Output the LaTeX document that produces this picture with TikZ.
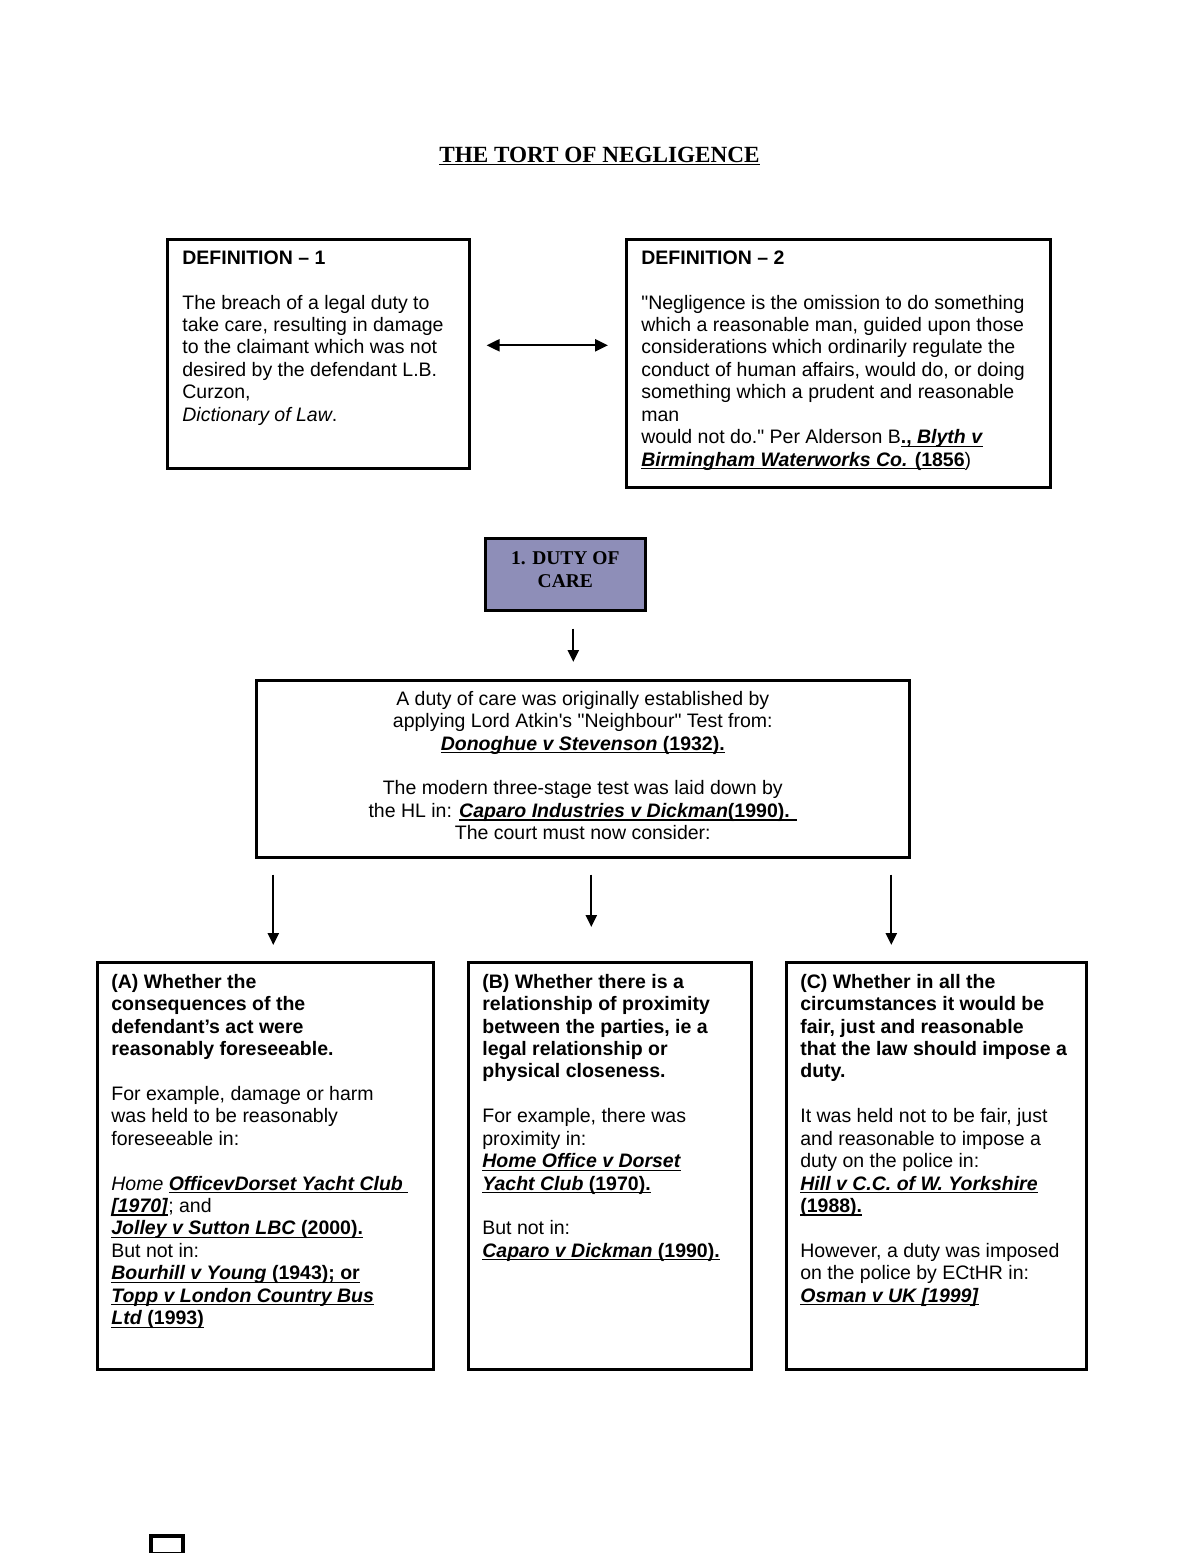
\documentclass[tikz,border=0pt]{standalone}
\usepackage{fontspec}
\setmainfont{Liberation Sans}[Ligatures=TeXOff]
\newfontfamily\titlefont{Liberation Serif}
\usetikzlibrary{positioning, arrows.meta}

\definecolor{dutyblue}{RGB}{142,142,184}

\newsavebox{\ulinebox}
\newcommand{\ulcase}[1]{\sbox{\ulinebox}{#1}\rlap{\rule[-1.8pt]{\wd\ulinebox}{0.7pt}}\usebox{\ulinebox}}
\newcommand{\case}[1]{\textbf{\textit{#1}}}

\tikzset{
  panel/.style={draw, line width=1.5pt, anchor=north west, inner sep=0pt},
  panetext/.style={inner sep=0pt, align=left, font=\fontsize{11.1}{12.76}\selectfont},
  flow/.style={line width=1.3pt, -{Triangle[length=0.24cm,width=0.22cm]}},
}

\begin{document}
\begin{tikzpicture}[x=0.02cm, y=-0.02cm]
\useasboundingbox (0,0) rectangle (1200,1553);

\node[anchor=base, inner sep=0pt, font=\titlefont\bfseries\fontsize{13.2}{15}\selectfont]
    (title) at (599.5,162) {\ulcase{THE TORT OF NEGLIGENCE}};

\node[panel, minimum width=6.04cm, minimum height=4.58cm] (def1) at (166,238) {};
\node[panel, minimum width=8.48cm, minimum height=4.96cm] (def2) at (625,238) {};
\node[panetext, below right=0.205cm and 0.32cm of def1.north west] (def1txt)
    {\strut\textbf{DEFINITION – 1}\\[\baselineskip]
     The breach of a legal duty to\\
     take care, resulting in damage\\
     to the claimant which was not\\
     desired by the defendant L.B.\\
     Curzon,\\
     \textit{Dictionary of Law}.};
\node[panetext, below right=0.205cm and 0.32cm of def2.north west] (def2txt)
    {\strut\textbf{DEFINITION – 2}\\[\baselineskip]
     "Negligence is the omission to do something\\
     which a reasonable man, guided upon those\\
     considerations which ordinarily regulate the\\
     conduct of human affairs, would do, or doing\\
     something which a prudent and reasonable\\
     man\\
     would not do." Per Alderson B\ulcase{\textbf{., \textit{Blyth v}}}\\
     \ulcase{\textbf{\textit{Birmingham Waterworks Co.} (1856}})};

\node[panel, fill=dutyblue, minimum width=3.2cm, minimum height=1.44cm] (duty) at (484,537) {};
\node[align=center, inner sep=0pt, font=\titlefont\bfseries\fontsize{11.1}{13}\selectfont]
    (dutytxt) at ([yshift=0.09cm]duty.center) {1. DUTY OF\\CARE};

\node[panel, minimum width=13.06cm, minimum height=3.54cm] (main) at (255,679) {};
\node[panetext, align=center, below=0.205cm of main.north] (maintxt)
    {\strut A duty of care was originally established by\\
     applying Lord Atkin's "Neighbour" Test from:\\
     \ulcase{\textbf{\textit{Donoghue v Stevenson} (1932).}}\\[\baselineskip]
     The modern three-stage test was laid down by\\
     the HL in: \ulcase{\textbf{\textit{Caparo Industries v Dickman}(1990). }}\\
     The court must now consider:};

\node[panel, minimum width=6.72cm, minimum height=8.14cm] (testa) at (96,961) {};
\node[panel, minimum width=5.66cm, minimum height=8.14cm] (testb) at (467,961) {};
\node[panel, minimum width=6.0cm, minimum height=8.14cm] (testc) at (785,961) {};

\node[panetext, below right=0.225cm and 0.3cm of testa.north west] (testatxt)
    {\strut\textbf{(A) Whether the}\\
     \textbf{consequences of the}\\
     \textbf{defendant’s act were}\\
     \textbf{reasonably foreseeable.}\\[\baselineskip]
     For example, damage or harm\\
     was held to be reasonably\\
     foreseeable in:\\[\baselineskip]
     \textit{Home} \ulcase{\case{OfficevDorset Yacht Club }}\\
     \ulcase{\case{[1970]}}; and\\
     \ulcase{\textbf{\textit{Jolley v Sutton LBC} (2000).}}\\
     But not in:\\
     \ulcase{\textbf{\textit{Bourhill v Young} (1943); or}}\\
     \ulcase{\case{Topp v London Country Bus}}\\
     \ulcase{\textbf{\textit{Ltd} (1993)}}};
\node[panetext, below right=0.225cm and 0.3cm of testb.north west] (testbtxt)
    {\strut\textbf{(B) Whether there is a}\\
     \textbf{relationship of proximity}\\
     \textbf{between the parties, ie a}\\
     \textbf{legal relationship or}\\
     \textbf{physical closeness.}\\[\baselineskip]
     For example, there was\\
     proximity in:\\
     \ulcase{\case{Home Office v Dorset}}\\
     \ulcase{\textbf{\textit{Yacht Club} (1970).}}\\[\baselineskip]
     But not in:\\
     \ulcase{\textbf{\textit{Caparo v Dickman} (1990).}}};
\node[panetext, below right=0.225cm and 0.3cm of testc.north west] (testctxt)
    {\strut\textbf{(C) Whether in all the}\\
     \textbf{circumstances it would be}\\
     \textbf{fair, just and reasonable}\\
     \textbf{that the law should impose a}\\
     \textbf{duty.}\\[\baselineskip]
     It was held not to be fair, just\\
     and reasonable to impose a\\
     duty on the police in:\\
     \ulcase{\case{Hill v C.C. of W. Yorkshire}}\\
     \ulcase{\textbf{(1988).}}\\[\baselineskip]
     However, a duty was imposed\\
     on the police by ECtHR in:\\
     \ulcase{\case{Osman v UK [1999]}}};

\node[panel, line width=2pt, minimum width=0.64cm, minimum height=0.36cm] (pagemark) at (149,1534) {};

\draw[line width=1.3pt, {Triangle[length=0.26cm,width=0.24cm]}-{Triangle[length=0.26cm,width=0.24cm]},
      shorten <=0.32cm, shorten >=0.34cm]
    ([yshift=0.17cm]def1.east) -- ([yshift=0.17cm]def1.east -| def2.west);
\draw[flow, shorten <=0.34cm, shorten >=0.34cm]
    ([xshift=0.16cm]duty.south) -- ([xshift=0.16cm]duty.south |- main.north);
\draw[flow, shorten <=0.32cm, shorten >=0.32cm]
    ([xshift=0.16cm]testa.north |- main.south) -- ([xshift=0.16cm]testa.north);
\draw[flow, shorten <=0.32cm, shorten >=0.68cm]
    ([xshift=-0.37cm]testb.north |- main.south) -- ([xshift=-0.37cm]testb.north);
\draw[flow, shorten <=0.32cm, shorten >=0.32cm]
    ([xshift=-0.9cm]testc.north |- main.south) -- ([xshift=-0.9cm]testc.north);
\end{tikzpicture}
\end{document}
